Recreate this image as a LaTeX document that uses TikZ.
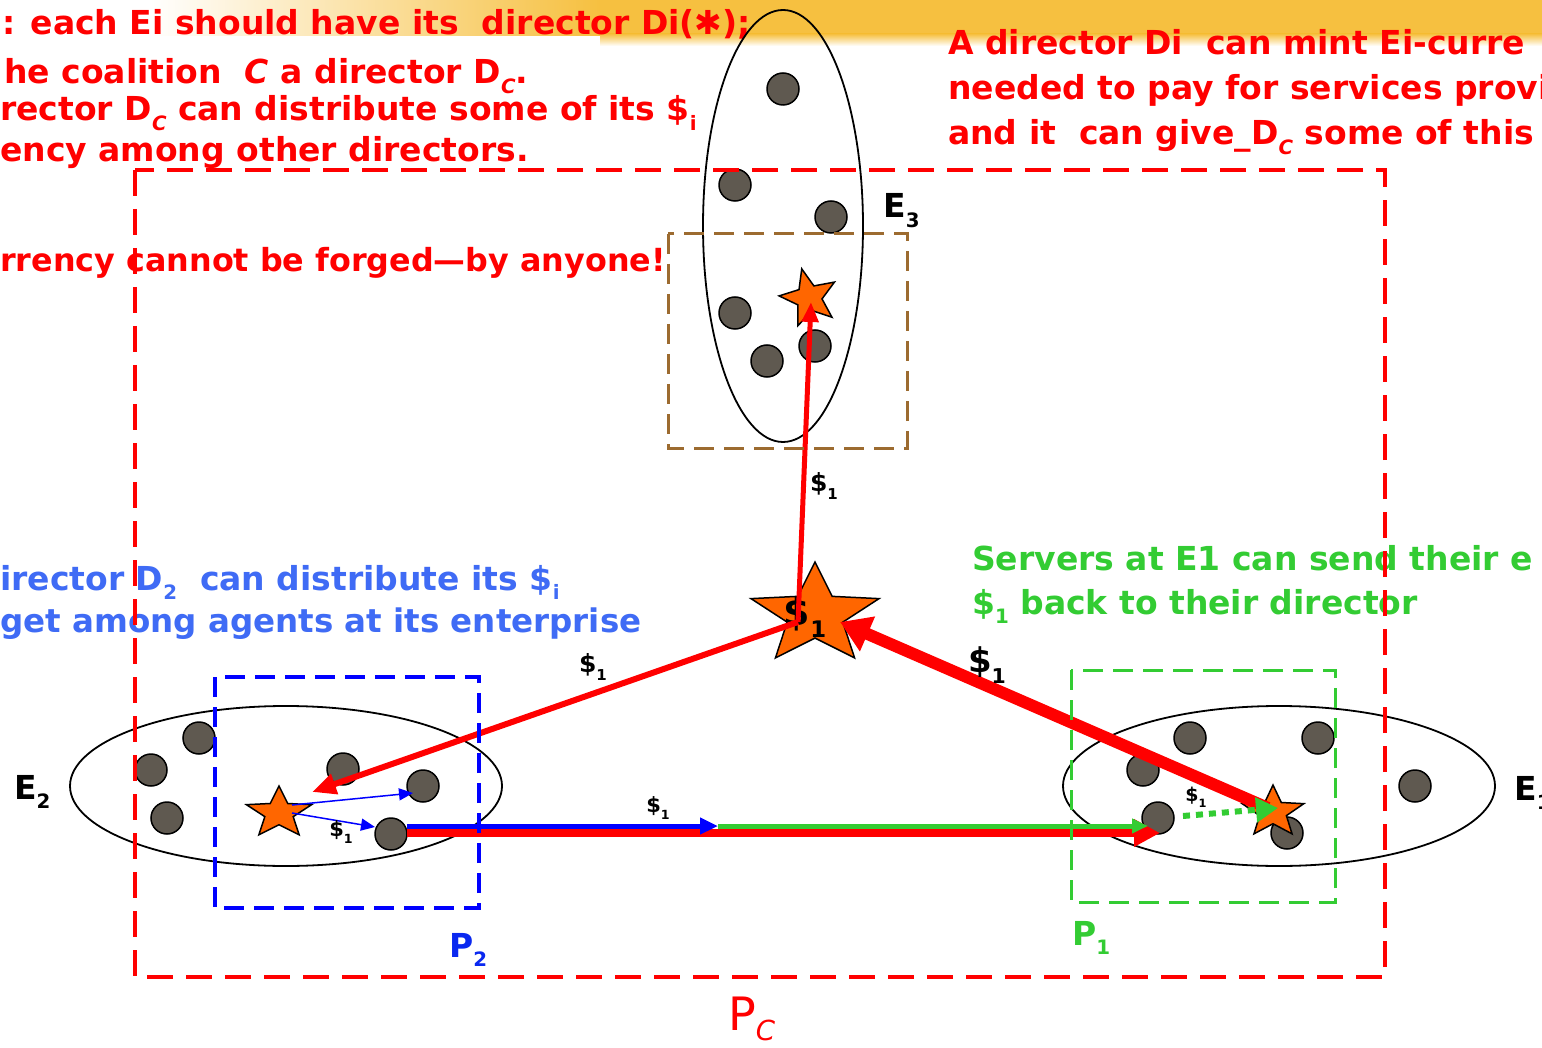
\documentclass[tikz,border=0pt]{standalone}
\usepackage{fontspec}
\usepackage{graphicx}
\setmainfont{DejaVu Sans}
\usetikzlibrary{shapes.geometric,arrows.meta}
\definecolor{redc}{HTML}{FF0000}
\definecolor{bluet}{HTML}{3F6BF5}
\definecolor{bluel}{HTML}{0000FF}
\definecolor{bluep}{HTML}{0A28F0}
\definecolor{greenc}{HTML}{33CC33}
\definecolor{brownc}{HTML}{9C6B30}
\definecolor{dotc}{HTML}{5F5950}
\definecolor{starc}{HTML}{FF6600}
\definecolor{yel}{HTML}{F6C040}
\newcommand\sbs[1]{\raisebox{-0.3em}{\scalebox{0.6}{#1}}}
\begin{document}
\begin{tikzpicture}[x=1pt,y=-1pt,
  dot/.style={circle, draw=black, line width=1.5, fill=dotc, minimum size=32, inner sep=0},
  dstar/.style={star, star points=5, star point ratio=2.3, draw=black, line width=1.5, fill=starc, inner sep=0},
  ell/.style={ellipse, draw=black, line width=1.8, inner sep=0},
  txt/.style={inner sep=0, font=\fontsize{33}{38}\selectfont\bfseries},
  lab/.style={inner sep=0, font=\fontsize{21}{24}\selectfont\bfseries, text=black},
  pbox/.style={draw, line width=3.5, dash pattern=on 20 off 10},
]
\useasboundingbox (0,0) rectangle (1542,1048);
\fill[white] (0,0) rectangle (1542,1048);
% yellow band
\shade[left color=white, right color=yel] (150,0) rectangle (600,36);
\fill[yel] (600,0) rectangle (1542,34);
\shade[top color=yel, bottom color=white] (600,34) rectangle (1542,46);

% texts top left (red)
\node[txt, text=redc, anchor=base west] (t1) at (2,35) {: each Ei should have its\ \ director Di({\mdseries ✱});};
\node[txt, text=redc, anchor=base west] (t2) at (4,84) {he coalition\ \ {\itshape C} a director D\sbs{\itshape C}.};
\node[txt, text=redc, anchor=base west] (t3) at (0,121) {rector D\sbs{\itshape C} can distribute some of its \$\sbs{i}};
\node[txt, text=redc, anchor=base west] (t4) at (0,162) {ency\ among other directors.};
\node[txt, text=redc, anchor=base west, font=\fontsize{31.8}{38}\selectfont\bfseries] (t5) at (0,272) {rrency cannot be forged—by anyone!};
% texts top right (red)
\node[txt, text=redc, anchor=base west] (t6) at (948,55) {A director Di\ \ can mint Ei-curre};
\node[txt, text=redc, anchor=base west] (t7) at (948,100) {needed to pay for services provi};
\node[txt, text=redc, anchor=base west] (t8) at (948,145) {and it\ \ can give\_D\sbs{\itshape C} some of this};
% blue texts
\node[txt, text=bluet, anchor=base west] (b1) at (0,590) {irector D\sbs{2}\ \ can distribute its \$\sbs{i}};
\node[txt, text=bluet, anchor=base west, font=\fontsize{32.5}{38}\selectfont\bfseries] (b2) at (0,632) {get among agents at its enterprise};
% green texts
\node[txt, text=greenc, anchor=base west] (g1) at (972,570) {Servers at E1 can send their e};
\node[txt, text=greenc, anchor=base west] (g2) at (972,614) {\$\sbs{1} back to their director};

% ellipses
\node[ell, minimum width=160, minimum height=432] (E3) at (783,226) {};
\node[ell, minimum width=432, minimum height=160] (E2) at (286,786) {};
\node[ell, minimum width=432, minimum height=160] (E1) at (1279,786) {};

% dots E3
\node[dot] (a1) at (783,89) {};
\node[dot] (a2) at (735,185) {};
\node[dot] (a3) at (831,217) {};
\node[dot] (a4) at (735,313) {};
\node[dot] (a5) at (767,361) {};
\node[dot] (a6) at (815,346) {};
% dots E2
\node[dot] (b1d) at (199,738) {};
\node[dot] (b2d) at (151,770) {};
\node[dot] (b3d) at (167,818) {};
\node[dot] (b4d) at (343,769) {};
\node[dot] (b5d) at (423,786) {};
\node[dot] (b6d) at (391,834) {};
% dots E1
\node[dot] (c1) at (1190,738) {};
\node[dot] (c2) at (1318,738) {};
\node[dot] (c3) at (1143,770) {};
\node[dot] (c4) at (1158,818) {};
\node[dot] (c5) at (1287,833) {};
\node[dot] (c6) at (1415,786) {};

% stars
\node[dstar, minimum size=60, shift={(809,298)}, rotate=14] (s3) at (0,0) {};
\node[dstar, minimum size=106, shift={(815,615)}, xscale=1.27] (dc) at (0,0) {};
\node[dstar, minimum size=54, shift={(279,813)}, xscale=1.27] (s2) at (0,0) {};
\node[dstar, minimum size=54, shift={(1273,812)}, xscale=1.2] (s1) at (0,0) {};

% labels
\node[txt, text=black, anchor=base west] (lE3) at (883,218) {E\sbs{3}};
\node[txt, text=black, anchor=base west] (lE2) at (14,799) {E\sbs{2}};
\node[txt, text=black, anchor=base west] (lE1) at (1514,800) {E\sbs{1}};
\node[txt, text=bluep, anchor=base west] (lP2) at (449,957) {P\sbs{2}};
\node[txt, text=greenc, anchor=base west] (lP1) at (1072,945) {P\sbs{1}};
\node[inner sep=0, text=redc, anchor=base west, font=\fontsize{46}{50}\selectfont] (lPC) at (728,1030) {P\raisebox{-0.22em}{\scalebox{0.6}{\itshape C}}};
\node[lab, font=\fontsize{38}{42}\selectfont\bfseries] (ldc) at (805,617) {\$\sbs{1}};

% coordinates for arrow ends
\coordinate (dcS) at (798,622);
\coordinate (s3tip) at (811,302);
\coordinate (s2tip) at (312,792);
\coordinate (s1S) at (1268,808);
\coordinate (dcR) at (840,622);
\coordinate (rS) at (407,833);
\coordinate (rE) at (1160,833);
\coordinate (bS) at (407,826);
\coordinate (bE) at (718,826);
\coordinate (gE) at (1148,826);
\coordinate (gdS) at (1183,816);
\coordinate (gdE) at (1278,808);
\coordinate (s2a) at (292,805);
\coordinate (s2b) at (292,813);
\coordinate (b5tip) at (413,793);
\coordinate (b6tip) at (375,827);

% arrows
\draw[redc, line width=5, -{Triangle[length=20,width=16]}] (dcS) -- (s3tip);
\draw[redc, line width=6, -{Triangle[length=24,width=20]}] (dcS) -- (s2tip);
\draw[redc, line width=12, -{Triangle[length=30,width=36]}] (s1S) -- (dcR);
\draw[redc, line width=8, -{Triangle[length=26,width=26]}] (rS) -- (rE);
\draw[bluel, line width=5, -{Triangle[length=18,width=16]}] (bS) -- (bE);
\draw[greenc, line width=5, -{Triangle[length=16,width=14]}] (bE) -- (gE);
\draw[greenc, line width=6, dash pattern=on 7 off 6, -{Triangle[length=22,width=24]}] (gdS) -- (gdE);
\draw[bluel, line width=1.5, -{Triangle[length=14,width=12]}] (s2a) -- (b5tip);
\draw[bluel, line width=1.5, -{Triangle[length=14,width=12]}] (s2b) -- (b6tip);

% small labels
\node[lab, font=\fontsize{25}{28}\selectfont\bfseries] (l1) at (824,486) {\$\sbs{1}};
\node[lab, font=\fontsize{25}{28}\selectfont\bfseries] (l2) at (593,667) {\$\sbs{1}};
\node[lab] (l3) at (658,808) {\$\sbs{1}};
\node[lab] (l4) at (341,832) {\$\sbs{1}};
\node[lab, font=\fontsize{19}{22}\selectfont\bfseries] (l5) at (1196,797) {\$\sbs{1}};
\node[lab, font=\fontsize{34}{38}\selectfont\bfseries] (l6) at (987,665) {\$\sbs{1}};

% dashed boxes
\draw[pbox, brownc, line width=3] (668,234) rectangle (907,448);
\draw[pbox, bluel] (215,677) rectangle (479,908);
\draw[pbox, greenc, line width=3] (1071,670) rectangle (1335,902);
\draw[pbox, redc, line width=4.5, dash pattern=on 26 off 13] (135,170) rectangle (1385,977);
\end{tikzpicture}
\end{document}
